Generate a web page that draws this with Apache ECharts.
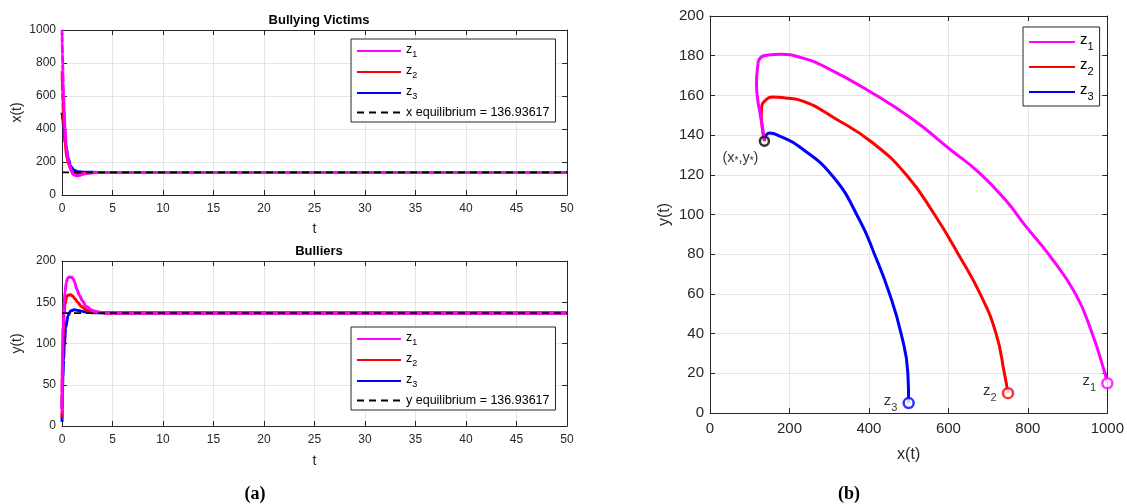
<!DOCTYPE html>
<html><head><meta charset="utf-8">
<script src="https://cdn.jsdelivr.net/npm/echarts@6/dist/echarts.min.js"></script>
<style>html,body{margin:0;padding:0;background:#fff}#c{width:1127px;height:504px}</style>
</head><body><div id="c"></div>
<script>
// ---- data ----
const EQ = 136.93617;
// trajectory z1
const t1 = [0,0.004,0.012,0.025,0.048,0.068,0.088,0.117,0.155,0.21,0.295,0.43,0.55,0.75,0.95,1.1,1.25,1.45,1.75,2.0,2.4,3.0,3.7,4.6,6,50];
const x1 = [1000,994,962,920,852,795,745,678,603,510,402,293,230,180,142,125,120,117,120,125,131,135,136.5,136.9,136.94,136.94];
const y1 = [15,20,40,60,80,94,107,121,133,148,162,174,179,180.7,180.2,178.5,174.5,166,158,152,145,140,138,137.2,136.94,136.94];
// trajectory z2
const t2 = [0,0.004,0.013,0.031,0.06,0.09,0.135,0.2,0.3,0.48,0.65,0.85,1.05,1.3,1.55,1.9,2.5,3.3,4.3,6,50];
const x2 = [750,741,720,680,625,565,494,410,318,226,190,159,140,130,129,131,134,136.5,136.9,136.94,136.94];
const y2 = [10,20,40,60,80,100,120,136,148,157.6,158.7,159.2,157.6,154,150,145,140,137.8,137.1,136.94,136.94];
// trajectory z3
const t3 = [0,0.01,0.04,0.09,0.16,0.22,0.36,0.6,0.85,1.2,1.6,2.2,3,4.5,50];
const x3 = [500,498,481,452,414,377,310,226,175,150,141,138,137.2,136.94,136.94];
const y3 = [5,20,40,60,80,97,119,134,139.5,141,140,138.5,137.4,136.94,136.94];
const names = ['z1','z2','z3'];
const colors = ['#ff00ff','#ff0000','#0000ff'];
const tTicks = [0,50,5];      // min,max,interval time axes
const xTicks = [0,1000,200];  // x(t) axis
const yTicks = [0,200,50];    // y(t) axis (time plot)
const pxTicks = [0,1000,200]; // phase x
const pyTicks = [0,200,20];   // phase y

const FONT = '"Liberation Sans", Arial, sans-serif';
const AX = '#262626', GRIDC = '#e5e5e5';

function axis(gridIndex, position, rng, main, fs, name, nameGap, nameFs) {
  return {
    type:'value', gridIndex, position, min:rng[0], max:rng[1], interval:rng[2],
    axisLine:{show:true, onZero:false, lineStyle:{color:AX, width:1}},
    axisTick:{show:true, inside:true, length:5, lineStyle:{color:AX}},
    axisLabel:{show:main, color:AX, fontSize:fs, fontFamily:FONT, margin: position==='bottom'? 8 : 6,
      formatter: v => String(v)},
    splitLine:{show:main, lineStyle:{color:GRIDC, width:1}},
    name: main ? name : '', nameLocation:'middle', nameGap,
    nameTextStyle:{color:AX, fontSize:nameFs, fontFamily:FONT}
  };
}

const xAxis = [
  axis(0,'bottom',tTicks,true,12,'t',27,14), axis(0,'top',tTicks,false),
  axis(1,'bottom',tTicks,true,12,'t',28,14), axis(1,'top',tTicks,false),
  axis(2,'bottom',pxTicks,true,15,'x(t)',34,16), axis(2,'top',pxTicks,false)
];
const yAxis = [
  axis(0,'left',xTicks,true,12,'x(t)',38,14), axis(0,'right',xTicks,false),
  axis(1,'left',yTicks,true,12,'y(t)',38,14), axis(1,'right',yTicks,false),
  axis(2,'left',pyTicks,true,15,'y(t)',37,16), axis(2,'right',pyTicks,false)
];

const T = [t1,t2,t3], X = [x1,x2,x3], Y = [y1,y2,y3];
const series = [];
// time plots
[[0, X], [2, Y]].forEach(([ai, V]) => {
  for (let k = 2; k >= 0; k--) {
    series.push({
      type:'line', name:names[k], xAxisIndex:ai, yAxisIndex:ai,
      data: T[k].map((t,i)=>[t, V[k][i]]),
      symbol:'none', smooth:0.3, smoothMonotone:'x',
      lineStyle:{color:colors[k], width:3}, itemStyle:{color:colors[k]}, z:2
    });
  }
});
const XEQ = 'x equilibrium = ' + EQ.toFixed(5);
const YEQ = 'y equilibrium = ' + EQ.toFixed(5);
series.push({type:'line', name:XEQ, xAxisIndex:0, yAxisIndex:0, data:[[tTicks[0],EQ],[tTicks[1],EQ]],
  symbol:'none', lineStyle:{color:'#000', width:1.8, type:[7,5]}, itemStyle:{color:'#000'}, z:3});
series.push({type:'line', name:YEQ, xAxisIndex:2, yAxisIndex:2, data:[[tTicks[0],EQ],[tTicks[1],EQ]],
  symbol:'none', lineStyle:{color:'#000', width:1.8, type:[7,5]}, itemStyle:{color:'#000'}, z:3});

function subRich(fs, ss, pad, color) {
  return {
    b:{fontSize:fs, fontFamily:FONT, color, verticalAlign:'top'},
    s:{fontSize:ss, fontFamily:FONT, color, padding:[pad,0,0,0]}
  };
}
const subFmt = n => n.charAt(0)==='z' ? '{b|z}{s|' + n.slice(1) + '}' : n;

// phase plot
for (let k = 2; k >= 0; k--) {
  series.push({
    type:'line', name:names[k], xAxisIndex:4, yAxisIndex:4,
    data: X[k].map((x,i)=>[x, Y[k][i]]),
    symbol:'none', smooth:0.5,
    lineStyle:{color:colors[k], width:3}, itemStyle:{color:colors[k]}, z:2
  });
}
for (let k = 0; k < 3; k++) {
  series.push({
    type:'scatter', name:'start '+names[k], xAxisIndex:4, yAxisIndex:4,
    data:[[X[k][0], Y[k][0]]], symbol:'circle', symbolSize:10,
    itemStyle:{color:'#fff', borderColor:colors[k], borderWidth:2.5}, z:4,
    label:{show:true, position:'left', distance:5, formatter: () => subFmt(names[k]),
      rich: subRich(15, 11, 9, '#000')}
  });
}
series.push({
  type:'scatter', name:'equilibrium', xAxisIndex:4, yAxisIndex:4,
  data:[[EQ, EQ]], symbol:'circle', symbolSize:9,
  itemStyle:{color:'rgba(0,0,0,0)', borderColor:'#000', borderWidth:2.5}, z:5,
  label:{show:true, position:'bottom', distance:3, offset:[-24,0],
    formatter:'{a|(x}{s|*}{a|,y}{s|*}{a|)}',
    rich:{a:{fontSize:14.5, fontFamily:FONT, color:'#000'}, s:{fontSize:10, fontFamily:FONT, color:'#000', padding:[6,0,0,0]}}}
});

function legend(left, top, data, fs, ss, pad, gap, iw, padding) {
  return {
    orient:'vertical', left, top, data, itemWidth:iw, itemHeight:2, itemGap:gap,
    padding, backgroundColor:'#fff', borderColor:AX, borderWidth:1, borderRadius:0,
    selectedMode:false, formatter: subFmt, itemStyle:{opacity:0},
    textStyle:{fontSize:fs, fontFamily:FONT, color:'#000', rich: subRich(fs, ss, pad, '#000')}
  };
}

const titleStyle = {fontSize:13, fontWeight:'bold', color:'#000', fontFamily:FONT};
const capStyle = {fontSize:18, fontWeight:'bold', color:'#000', fontFamily:'"Liberation Serif", "Times New Roman", serif'};

const option = {
  animation:false,
  backgroundColor:'#fff',
  title:[
    {text:'Bullying Victims', left:314, top:9, textAlign:'center', textStyle:titleStyle},
    {text:'Bulliers', left:314, top:240, textAlign:'center', textStyle:titleStyle},
    {text:'(a)', left:250, top:480, textAlign:'center', textStyle:capStyle},
    {text:'(b)', left:844, top:480, textAlign:'center', textStyle:capStyle}
  ],
  grid:[
    {left:62, top:30, width:505, height:165},
    {left:62, top:261, width:505, height:165},
    {left:710, top:16, width:399, height:397}
  ],
  xAxis, yAxis,
  legend:[
    legend(351, 39, ['z1','z2','z3',XEQ], 12.5, 9, 7, 5, 44, [4,6,3,5]),
    legend(351, 327, ['z1','z2','z3',YEQ], 12.5, 9, 7, 5, 44, [4,6,3,5]),
    legend(1023, 27, ['z1','z2','z3'], 15, 11, 9, 5, 46, [5,6,4,5])
  ],
  series
};
const chart = echarts.init(document.getElementById('c'), null, {renderer:'canvas'});
chart.setOption(option);
</script>
</body></html>
